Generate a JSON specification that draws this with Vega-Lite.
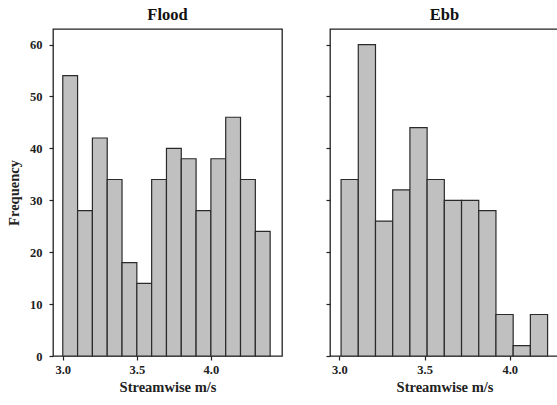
{
  "$schema": "https://vega.github.io/schema/vega-lite/v6.json",
  "padding": {"left": 5, "top": 5, "right": 0, "bottom": 0},
  "background": "white",
  "datasets": {
    "flood": [
      {"bin_start": 3.0, "bin_end": 3.1, "count": 54},
      {"bin_start": 3.1, "bin_end": 3.2, "count": 28},
      {"bin_start": 3.2, "bin_end": 3.3, "count": 42},
      {"bin_start": 3.3, "bin_end": 3.4, "count": 34},
      {"bin_start": 3.4, "bin_end": 3.5, "count": 18},
      {"bin_start": 3.5, "bin_end": 3.6, "count": 14},
      {"bin_start": 3.6, "bin_end": 3.7, "count": 34},
      {"bin_start": 3.7, "bin_end": 3.8, "count": 40},
      {"bin_start": 3.8, "bin_end": 3.9, "count": 38},
      {"bin_start": 3.9, "bin_end": 4.0, "count": 28},
      {"bin_start": 4.0, "bin_end": 4.1, "count": 38},
      {"bin_start": 4.1, "bin_end": 4.2, "count": 46},
      {"bin_start": 4.2, "bin_end": 4.3, "count": 34},
      {"bin_start": 4.3, "bin_end": 4.4, "count": 24}
    ],
    "ebb": [
      {"bin_start": 3.01, "bin_end": 3.111, "count": 34},
      {"bin_start": 3.111, "bin_end": 3.212, "count": 60},
      {"bin_start": 3.212, "bin_end": 3.313, "count": 26},
      {"bin_start": 3.313, "bin_end": 3.414, "count": 32},
      {"bin_start": 3.414, "bin_end": 3.515, "count": 44},
      {"bin_start": 3.515, "bin_end": 3.616, "count": 34},
      {"bin_start": 3.616, "bin_end": 3.717, "count": 30},
      {"bin_start": 3.717, "bin_end": 3.818, "count": 30},
      {"bin_start": 3.818, "bin_end": 3.919, "count": 28},
      {"bin_start": 3.919, "bin_end": 4.02, "count": 8},
      {"bin_start": 4.02, "bin_end": 4.121, "count": 2},
      {"bin_start": 4.121, "bin_end": 4.222, "count": 8}
    ]
  },
  "spacing": 41,
  "hconcat": [
    {
      "title": "Flood",
      "width": 229,
      "height": 327,
      "data": {"name": "flood"},
      "mark": {"type": "bar"},
      "encoding": {
        "x": {"field": "bin_start", "type": "quantitative",
              "scale": {"domain": [2.934, 4.48], "nice": false, "zero": false},
              "axis": {"title": "Streamwise m/s", "values": [3.0, 3.5, 4.0], "format": ".1f"}},
        "x2": {"field": "bin_end"},
        "y": {"field": "count", "type": "quantitative",
              "scale": {"domain": [0, 63], "nice": false},
              "axis": {"title": "Frequency", "values": [0, 10, 20, 30, 40, 50, 60]}},
        "y2": {"datum": 0}
      }
    },
    {
      "title": "Ebb",
      "width": 229,
      "height": 327,
      "data": {"name": "ebb"},
      "mark": {"type": "bar"},
      "encoding": {
        "x": {"field": "bin_start", "type": "quantitative",
              "scale": {"domain": [2.945, 4.289], "nice": false, "zero": false},
              "axis": {"title": "Streamwise m/s", "values": [3.0, 3.5, 4.0], "format": ".1f"}},
        "x2": {"field": "bin_end"},
        "y": {"field": "count", "type": "quantitative",
              "scale": {"domain": [0, 63], "nice": false},
              "axis": {"title": null, "labels": false, "values": [0, 10, 20, 30, 40, 50, 60]}},
        "y2": {"datum": 0}
      }
    }
  ],
  "config": {
    "font": "Liberation Serif",
    "view": {"stroke": "#222222", "strokeWidth": 1.3},
    "bar": {"fill": "#c0c0c0", "stroke": "#2a2a2a", "strokeWidth": 1.2},
    "title": {"font": "Liberation Serif", "fontSize": 16.5, "fontWeight": "bold", "color": "#111111", "offset": 6},
    "axis": {
      "domain": false,
      "grid": false,
      "tickColor": "#222222",
      "tickSize": 4,
      "tickWidth": 1.2,
      "labelFont": "Liberation Serif",
      "labelFontSize": 12.5,
      "labelFontWeight": "bold",
      "labelColor": "#222222",
      "titleFont": "Liberation Serif",
      "titleFontSize": 14.5,
      "titleFontWeight": "bold",
      "titleColor": "#222222"
    },
    "axisY": {"labelPadding": 7, "titlePadding": 8},
    "axisX": {"labelPadding": 3, "titlePadding": 5}
  }
}
